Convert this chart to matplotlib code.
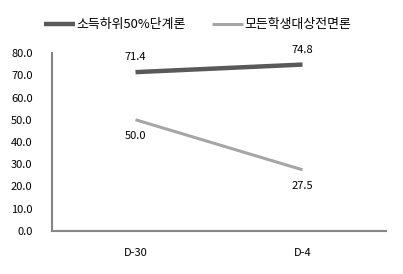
import matplotlib
matplotlib.use("Agg")
import matplotlib.pyplot as plt

plt.rcParams['font.family'] = ['Noto Sans CJK KR', 'DejaVu Sans']

categories = ["D-30", "D-4"]
series_names = ["소득하위50%단계론", "모든학생대상전면론"]
low_income = [71.4, 74.8]
all_students = [50.0, 27.5]
yticks = [0, 10, 20, 30, 40, 50, 60, 70, 80]

fig = plt.figure(figsize=(4.03, 2.74), dpi=100)
ax = fig.add_axes([52 / 403, 43 / 274, 334 / 403, 178 / 274])

x = [0, 1]
ax.plot(x, low_income, color="#595959", lw=3.2, solid_capstyle="butt", label=series_names[0])
ax.plot(x, all_students, color="#A6A6A6", lw=2.2, solid_capstyle="butt", label=series_names[1])

for xi, v in zip(x, low_income):
    ax.annotate(f"{v:.1f}", (xi, v), xytext=(0, 7), textcoords="offset points",
                ha="center", va="bottom", fontsize=8)
for xi, v in zip(x, all_students):
    ax.annotate(f"{v:.1f}", (xi, v), xytext=(0, -8), textcoords="offset points",
                ha="center", va="top", fontsize=8)

ax.set_xlim(-0.5, 1.5)
ax.set_ylim(0, 80)
ax.set_yticks(yticks)
ax.set_yticklabels([f"{t:.1f}" for t in yticks], fontsize=8)
ax.set_xticks(x)
ax.set_xticklabels(categories, fontsize=8)
ax.tick_params(length=0, pad=12, axis="x")
ax.tick_params(length=0, pad=14, axis="y")

for s in ["top", "right"]:
    ax.spines[s].set_visible(False)
for s in ["left", "bottom"]:
    ax.spines[s].set_color("#868686")
    ax.spines[s].set_linewidth(1.5)

fig.legend(loc="upper center", bbox_to_anchor=(0.49, 0.975), ncol=2, frameon=False,
           fontsize=9.3, handlelength=2.4, handletextpad=0.1, columnspacing=2.0)

fig.savefig("out.png", dpi=100)
